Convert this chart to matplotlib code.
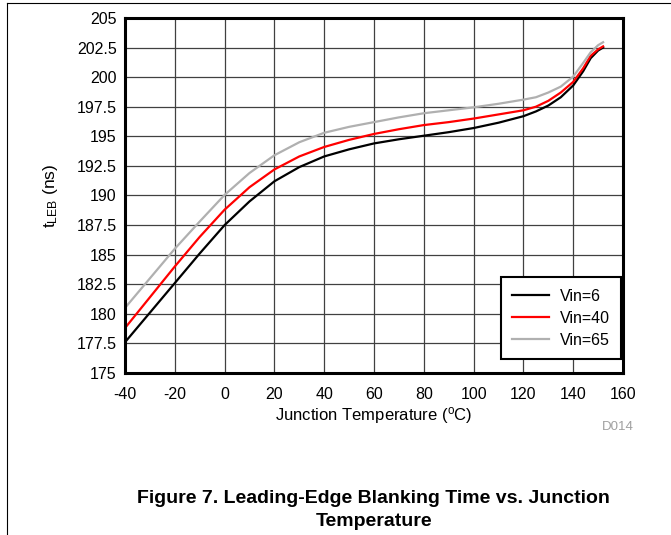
import numpy as np
import matplotlib
matplotlib.use("Agg")
import matplotlib.pyplot as plt
from matplotlib.lines import Line2D

plt.rcParams['font.family'] = ['Liberation Sans', 'DejaVu Sans']
plt.rcParams['mathtext.fontset'] = 'custom'
plt.rcParams['mathtext.rm'] = 'Liberation Sans'
plt.rcParams['mathtext.it'] = 'Liberation Sans:italic'
plt.rcParams['axes.unicode_minus'] = False

# junction temperature (C)
temp = [-40, -30, -20, -10, 0, 10, 20, 30, 40, 50, 60, 70, 80, 90, 100,
        110, 120, 125, 130, 135, 140, 144, 147, 150, 152]

# t_LEB (ns)
vin6 = [177.6, 180.1, 182.6, 185.1, 187.5, 189.5, 191.2, 192.4, 193.3, 193.9,
        194.4, 194.75, 195.05, 195.35, 195.7, 196.15, 196.7, 197.1, 197.6,
        198.3, 199.3, 200.5, 201.6, 202.25, 202.5]
vin40 = [178.8, 181.4, 184.0, 186.5, 188.8, 190.7, 192.2, 193.3, 194.1, 194.7,
         195.2, 195.6, 195.95, 196.2, 196.5, 196.85, 197.2, 197.5, 198.0,
         198.7, 199.6, 200.75, 201.8, 202.35, 202.6]
vin65 = [180.5, 183.0, 185.5, 187.8, 190.05, 191.9, 193.4, 194.5, 195.3, 195.8,
         196.2, 196.6, 196.95, 197.2, 197.45, 197.75, 198.1, 198.3, 198.7,
         199.2, 200.05, 201.2, 202.1, 202.7, 202.95]

xticks = list(range(-40, 161, 20))
yticks = [175, 177.5, 180, 182.5, 185, 187.5, 190, 192.5, 195, 197.5, 200, 202.5, 205]
ylabels = ['175', '177.5', '180', '182.5', '185', '187.5', '190', '192.5',
           '195', '197.5', '200', '202.5', '205']

fig = plt.figure(figsize=(6.71, 5.35), dpi=100)
ax = fig.add_axes([0.1863, 0.3028, 0.7422, 0.6636])

ax.plot(temp, vin6, color='black', lw=1.6, label='Vin=6')
ax.plot(temp, vin40, color='#ff0000', lw=1.6, label='Vin=40')
ax.plot(temp, vin65, color='#b0b0b0', lw=1.6, label='Vin=65')

ax.set_xlim(-40, 160)
ax.set_ylim(175, 205)
ax.set_xticks(xticks)
ax.set_yticks(yticks)
ax.set_yticklabels(ylabels)
ax.tick_params(length=0, labelsize=11.5)
ax.tick_params(axis='x', pad=10)
ax.tick_params(axis='y', pad=6)
ax.grid(True, color='#404040', lw=0.9)
ax.set_axisbelow(True)
for s in ax.spines.values():
    s.set_linewidth(2.2)

ax.set_xlabel('Junction Temperature ($^{\\mathrm{o}}$C)', fontsize=12, labelpad=2)
ax.set_ylabel('t$_{\\mathrm{LEB}}$ (ns)', fontsize=12.5, labelpad=12)

leg = ax.legend(loc='lower right', bbox_to_anchor=(0.996, 0.039), fontsize=11.5,
                frameon=True, fancybox=False, framealpha=1, edgecolor='black',
                borderaxespad=0, handlelength=2.3, handletextpad=0.7,
                labelspacing=0.45, borderpad=0.7)
leg.get_frame().set_linewidth(1.5)

fig.text(0.944, 0.197, 'D014', fontsize=9.5, color='#a0a0a0', ha='right')
fig.text(0.557, 0.047, 'Figure 7. Leading-Edge Blanking Time vs. Junction\nTemperature',
         fontsize=14, fontweight='bold', ha='center', va='center', linespacing=1.5)

# page frame lines
fig.add_artist(Line2D([7 / 671, 1], [1 - 3 / 535, 1 - 3 / 535], color='black', lw=0.8))
fig.add_artist(Line2D([7 / 671, 7 / 671], [0, 1 - 3 / 535], color='black', lw=0.8))

fig.savefig('out.png', dpi=100)
